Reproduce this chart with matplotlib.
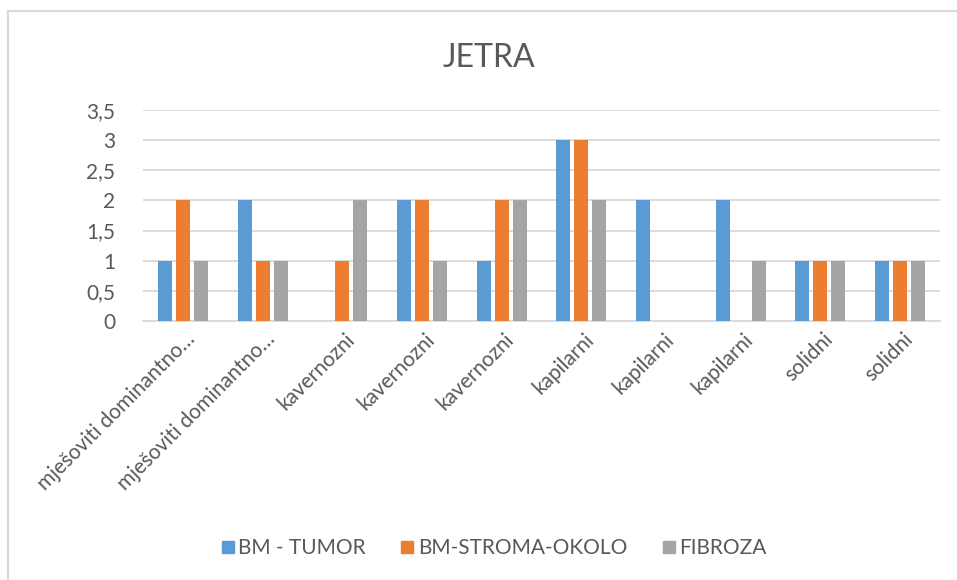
import matplotlib

matplotlib.use("Agg")
import matplotlib.pyplot as plt
import numpy as np
from matplotlib.lines import Line2D

plt.rcParams["font.family"] = ["Lato", "DejaVu Sans"]

categories = [
    "mješoviti dominantno…", "mješoviti dominantno…",
    "kavernozni", "kavernozni", "kavernozni",
    "kapilarni", "kapilarni", "kapilarni",
    "solidni", "solidni",
]
series_names = ["BM - TUMOR", "BM-STROMA-OKOLO", "FIBROZA"]
bm_tumor = [1, 2, 0, 2, 1, 3, 2, 2, 1, 1]
bm_stroma = [2, 1, 1, 2, 2, 3, 0, 0, 1, 1]
fibroza = [1, 1, 2, 1, 2, 2, 0, 1, 1, 1]
yticks = [0, 0.5, 1, 1.5, 2, 2.5, 3, 3.5]

COLORS = ["#5B9BD5", "#ED7D31", "#A5A5A5"]
TEXT = "#595959"
GRID = "#D9D9D9"

fig = plt.figure(figsize=(9.57, 5.80), dpi=100)
ax = fig.add_axes([143 / 957, 1 - 321 / 580, (940 - 143) / 957, (321 - 110) / 580])

x = np.arange(len(categories))
width = 0.176
step = 0.226
for i, vals in enumerate([bm_tumor, bm_stroma, fibroza]):
    ax.bar(x + (i - 1) * step, vals, width, color=COLORS[i], label=series_names[i], zorder=3)

ax.set_xlim(-0.5, len(categories) - 0.5)
ax.set_ylim(0, 3.5)
ax.set_yticks(yticks)
ax.set_yticklabels([f"{t:g}".replace(".", ",") for t in yticks])
ax.yaxis.grid(True, color=GRID, linewidth=1.3, zorder=0)
ax.tick_params(axis="both", length=0, colors=TEXT, labelsize=15)
ax.tick_params(axis="y", pad=20)
for s in ["top", "right", "left"]:
    ax.spines[s].set_visible(False)
ax.spines["bottom"].set_color(GRID)
ax.spines["bottom"].set_linewidth(1.3)

ax.set_xticks(x + 0.03)
ax.set_xticklabels(categories, rotation=45, ha="right", va="top", rotation_mode="anchor")
ax.tick_params(axis="x", pad=6)

fig.text(489 / 957, 1 - 58 / 580, "JETRA", ha="center", va="center", fontsize=23, color=TEXT)

handles = [Line2D([0], [0], marker="s", linestyle="none", markersize=9,
                  markerfacecolor=c, markeredgecolor=c) for c in COLORS]
fig.legend(handles, series_names, loc="center", bbox_to_anchor=(493 / 957, 1 - 548 / 580),
           ncol=3, frameon=False, fontsize=15, labelcolor=TEXT, handletextpad=0.1,
           columnspacing=1.6, handlelength=0.8)

# chart area border (top and left visible)
fig.add_artist(Line2D([8 / 957, 1], [1 - 11 / 580] * 2, color=GRID, linewidth=1.5))
fig.add_artist(Line2D([8 / 957] * 2, [0, 1 - 11 / 580], color=GRID, linewidth=1.5))

fig.savefig("out.png", dpi=100, facecolor="white")
